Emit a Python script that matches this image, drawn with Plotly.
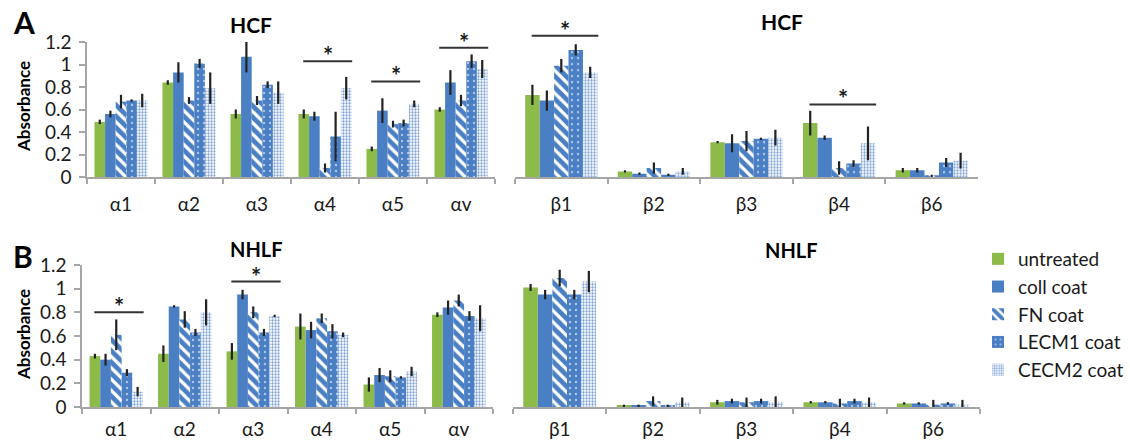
import plotly.graph_objects as go

# ---------------- data ----------------
alpha_cats = ["α1", "α2", "α3", "α4", "α5", "αv"]
beta_cats = ["β1", "β2", "β3", "β4", "β6"]
series_names = ["untreated", "coll coat", "FN coat", "LECM1 coat", "CECM2 coat"]

# HCF (panel A) - alpha integrins
hcf_alpha_untreated = [0.49, 0.84, 0.56, 0.56, 0.25, 0.60]
hcf_alpha_coll = [0.56, 0.93, 1.07, 0.54, 0.59, 0.84]
hcf_alpha_fn = [0.67, 0.68, 0.68, 0.08, 0.47, 0.68]
hcf_alpha_lecm1 = [0.68, 1.01, 0.82, 0.36, 0.48, 1.03]
hcf_alpha_cecm2 = [0.68, 0.79, 0.75, 0.79, 0.65, 0.96]
hcf_alpha_untreated_err = [0.02, 0.02, 0.04, 0.04, 0.02, 0.02]
hcf_alpha_coll_err = [0.03, 0.09, 0.14, 0.04, 0.11, 0.11]
hcf_alpha_fn_err = [0.06, 0.03, 0.04, 0.04, 0.03, 0.05]
hcf_alpha_lecm1_err = [0.01, 0.04, 0.03, 0.22, 0.03, 0.06]
hcf_alpha_cecm2_err = [0.06, 0.14, 0.10, 0.10, 0.03, 0.08]

# HCF (panel A) - beta integrins
hcf_beta_untreated = [0.73, 0.05, 0.31, 0.48, 0.06]
hcf_beta_coll = [0.68, 0.03, 0.30, 0.35, 0.06]
hcf_beta_fn = [0.99, 0.08, 0.32, 0.08, 0.01]
hcf_beta_lecm1 = [1.13, 0.02, 0.34, 0.12, 0.13]
hcf_beta_cecm2 = [0.93, 0.05, 0.35, 0.30, 0.145]
hcf_beta_untreated_err = [0.09, 0.01, 0.01, 0.11, 0.02]
hcf_beta_coll_err = [0.09, 0.01, 0.08, 0.02, 0.02]
hcf_beta_fn_err = [0.06, 0.05, 0.09, 0.06, 0.01]
hcf_beta_lecm1_err = [0.05, 0.01, 0.01, 0.03, 0.04]
hcf_beta_cecm2_err = [0.05, 0.03, 0.07, 0.15, 0.07]

# NHLF (panel B) - alpha integrins
nhlf_alpha_untreated = [0.43, 0.45, 0.47, 0.68, 0.19, 0.78]
nhlf_alpha_coll = [0.40, 0.85, 0.95, 0.65, 0.27, 0.84]
nhlf_alpha_fn = [0.61, 0.74, 0.80, 0.75, 0.26, 0.90]
nhlf_alpha_lecm1 = [0.29, 0.63, 0.63, 0.64, 0.25, 0.77]
nhlf_alpha_cecm2 = [0.13, 0.80, 0.77, 0.61, 0.30, 0.75]
nhlf_alpha_untreated_err = [0.02, 0.07, 0.07, 0.11, 0.06, 0.02]
nhlf_alpha_coll_err = [0.05, 0.01, 0.04, 0.07, 0.06, 0.06]
nhlf_alpha_fn_err = [0.13, 0.07, 0.05, 0.04, 0.05, 0.05]
nhlf_alpha_lecm1_err = [0.03, 0.03, 0.03, 0.06, 0.01, 0.04]
nhlf_alpha_cecm2_err = [0.04, 0.11, 0.01, 0.02, 0.04, 0.11]

# NHLF (panel B) - beta integrins
nhlf_beta_untreated = [1.01, 0.01, 0.04, 0.04, 0.03]
nhlf_beta_coll = [0.95, 0.01, 0.05, 0.04, 0.03]
nhlf_beta_fn = [1.09, 0.05, 0.04, 0.03, 0.02]
nhlf_beta_lecm1 = [0.95, 0.01, 0.05, 0.05, 0.03]
nhlf_beta_cecm2 = [1.06, 0.04, 0.04, 0.04, 0.02]
nhlf_beta_untreated_err = [0.03, 0.01, 0.02, 0.01, 0.01]
nhlf_beta_coll_err = [0.04, 0.01, 0.02, 0.01, 0.01]
nhlf_beta_fn_err = [0.07, 0.04, 0.04, 0.04, 0.04]
nhlf_beta_lecm1_err = [0.04, 0.01, 0.02, 0.02, 0.01]
nhlf_beta_cecm2_err = [0.09, 0.04, 0.05, 0.04, 0.04]

# significance brackets: (panel key, category, y-level)
sig_brackets = [
    ("A_alpha", "α4", 1.03),
    ("A_alpha", "α5", 0.85),
    ("A_alpha", "αv", 1.15),
    ("A_beta", "β1", 1.255),
    ("A_beta", "β4", 0.645),
    ("B_alpha", "α1", 0.80),
    ("B_alpha", "α3", 1.06),
]

y_ticks = [0, 0.2, 0.4, 0.6, 0.8, 1, 1.2]
y_tick_text = ["0", "0.2", "0.4", "0.6", "0.8", "1", "1.2"]

# ---------------- styling ----------------
GREEN = "#8cbb4a"
BLUE = "#4a7fc4"
FONT = "Lato"
TXT = "#1a1a1a"
AXC = "#a6a6a6"
W, H = 1130, 447

markers = [
    dict(color=GREEN),
    dict(color=BLUE),
    dict(color=BLUE, pattern=dict(shape="\\", fgcolor=BLUE, bgcolor="white", fgopacity=1,
                                  size=8, solidity=0.6)),
    dict(color=BLUE, pattern=dict(shape=".", fgcolor="white", fgopacity=0.55, bgcolor=BLUE,
                                  size=6, solidity=0.12)),
    dict(color="white", pattern=dict(shape=".", fgcolor="#7fa3d9", bgcolor="white", fgopacity=1,
                                     size=3, solidity=0.45)),
]

panels = {
    "A_alpha": dict(ax="x", ay="y", cats=alpha_cats,
                    vals=[hcf_alpha_untreated, hcf_alpha_coll, hcf_alpha_fn, hcf_alpha_lecm1, hcf_alpha_cecm2],
                    errs=[hcf_alpha_untreated_err, hcf_alpha_coll_err, hcf_alpha_fn_err, hcf_alpha_lecm1_err, hcf_alpha_cecm2_err],
                    px=(87, 495), py=(42, 177), yr=(0, 1.2), left=True, xstand=9),
    "A_beta": dict(ax="x2", ay="y2", cats=beta_cats,
                   vals=[hcf_beta_untreated, hcf_beta_coll, hcf_beta_fn, hcf_beta_lecm1, hcf_beta_cecm2],
                   errs=[hcf_beta_untreated_err, hcf_beta_coll_err, hcf_beta_fn_err, hcf_beta_lecm1_err, hcf_beta_cecm2_err],
                   px=(515, 978), py=(42, 177), yr=(0, 1.35), left=False, xstand=9),
    "B_alpha": dict(ax="x3", ay="y3", cats=alpha_cats,
                    vals=[nhlf_alpha_untreated, nhlf_alpha_coll, nhlf_alpha_fn, nhlf_alpha_lecm1, nhlf_alpha_cecm2],
                    errs=[nhlf_alpha_untreated_err, nhlf_alpha_coll_err, nhlf_alpha_fn_err, nhlf_alpha_lecm1_err, nhlf_alpha_cecm2_err],
                    px=(82, 493), py=(265, 407), yr=(0, 1.2), left=True, xstand=4),
    "B_beta": dict(ax="x4", ay="y4", cats=beta_cats,
                   vals=[nhlf_beta_untreated, nhlf_beta_coll, nhlf_beta_fn, nhlf_beta_lecm1, nhlf_beta_cecm2],
                   errs=[nhlf_beta_untreated_err, nhlf_beta_coll_err, nhlf_beta_fn_err, nhlf_beta_lecm1_err, nhlf_beta_cecm2_err],
                   px=(513, 980), py=(265, 407), yr=(0, 1.2), left=False, xstand=4),
}

fig = go.Figure()
first = True
for key, p in panels.items():
    for i, name in enumerate(series_names):
        fig.add_trace(go.Bar(
            x=p["cats"], y=p["vals"][i], name=name,
            xaxis=p["ax"], yaxis=p["ay"],
            marker=dict(line=dict(width=0), **markers[i]),
            error_y=dict(type="data", array=p["errs"][i], color="#222222", thickness=2.2, width=0),
            showlegend=first, legendgroup=name,
        ))
    first = False

layout = {}
for key, p in panels.items():
    xn = "xaxis" + p["ax"][1:]
    yn = "yaxis" + p["ay"][1:]
    x0, x1 = p["px"]
    y_top, y0 = p["py"]
    ppu = (y0 - y_top) / 1.2
    y_top_ext = y0 - ppu * p["yr"][1]
    layout[xn] = dict(domain=[x0 / W, x1 / W], anchor=p["ay"], type="category",
                      categoryorder="array", categoryarray=p["cats"],
                      showline=True, linecolor=AXC, linewidth=1.5,
                      ticks="outside", tickson="boundaries", ticklen=5, tickcolor=AXC, tickwidth=1.5,
                      ticklabelstandoff=p["xstand"],
                      tickfont=dict(family=FONT, size=19, color=TXT), showgrid=False, zeroline=False,
                      fixedrange=True, automargin=False)
    ydict = dict(domain=[1 - y0 / H, 1 - y_top_ext / H], anchor=p["ax"], range=list(p["yr"]),
                 showgrid=False, zeroline=False, fixedrange=True, automargin=False)
    if p["left"]:
        ydict.update(showline=True, linecolor=AXC, linewidth=1.5, ticks="outside", ticklen=6,
                     tickcolor=AXC, tickwidth=1.5, tickvals=y_ticks, ticktext=y_tick_text,
                     ticklabelstandoff=4,
                     tickfont=dict(family=FONT, size=19, color=TXT))
    else:
        ydict.update(showline=False, showticklabels=False, ticks="")
    layout[yn] = ydict

shapes = []
annotations = []
for key, cat, yv in sig_brackets:
    p = panels[key]
    idx = p["cats"].index(cat)
    shapes.append(dict(type="line", xref=p["ax"], yref=p["ay"], x0=idx - 0.32, x1=idx + 0.40,
                       y0=yv, y1=yv, line=dict(color="#333333", width=2)))
    annotations.append(dict(text="<b>*</b>", xref=p["ax"], yref=p["ay"], x=idx + 0.04, y=yv,
                            yanchor="bottom", showarrow=False, yshift=-11,
                            font=dict(family=FONT, size=24, color=TXT)))

def ann(text, xpx, ypx, size, anchor="center", angle=0):
    return dict(text=text, xref="paper", yref="paper", x=xpx / W, y=1 - ypx / H,
                xanchor=anchor, yanchor="middle", showarrow=False, textangle=angle,
                font=dict(family=FONT, size=size, color="#000000"))

annotations += [
    ann("<b>HCF</b>", 251, 24, 21),
    ann("<b>HCF</b>", 782, 22, 21),
    ann("<b>NHLF</b>", 256, 249, 20),
    ann("<b>NHLF</b>", 791, 250, 20),
    ann("<b>A</b>", 11, 22, 30, "left"),
    ann("<b>B</b>", 11, 256, 30, "left"),
    ann("<b>Absorbance</b>", 23, 107, 17, "center", -90),
    ann("<b>Absorbance</b>", 23, 335, 17, "center", -90),
]

fig.update_layout(
    width=W, height=H, margin=dict(l=0, r=0, t=0, b=0, autoexpand=False),
    paper_bgcolor="white", plot_bgcolor="white",
    barmode="group", bargap=0.22, bargroupgap=0,
    showlegend=True,
    legend=dict(x=978 / W, y=1 - 240 / H, xanchor="left", yanchor="top",
                font=dict(family=FONT, size=19, color=TXT), tracegroupgap=0,
                itemwidth=30, bgcolor="rgba(0,0,0,0)"),
    shapes=shapes, annotations=annotations,
    **layout,
)

fig.write_html("out.html", config={"displayModeBar": False},
               post_script="document.body.style.margin='0';document.body.style.overflow='hidden';")
